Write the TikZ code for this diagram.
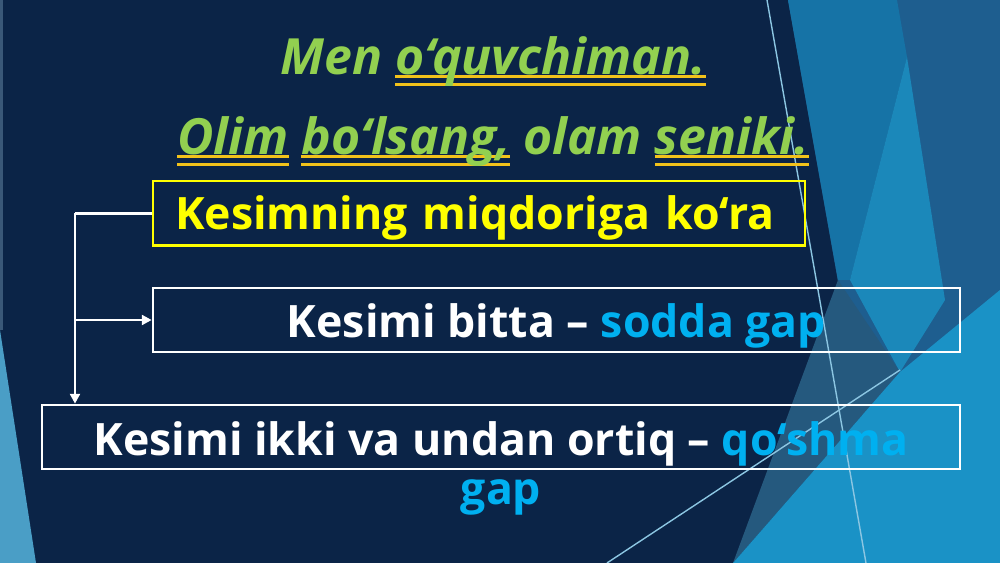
\documentclass[tikz,border=0pt]{standalone}
\usepackage{fontspec}
\setmainfont{Open Sans}
\usetikzlibrary{arrows.meta, positioning}

\definecolor{navy}{HTML}{0B2447}
\definecolor{steel}{HTML}{1E5E8F}
\definecolor{midblue}{HTML}{1673A6}
\definecolor{cyanwedge}{HTML}{1B88BA}
\definecolor{slate}{HTML}{25597E}
\definecolor{lightwedge}{HTML}{1A92C6}
\definecolor{leftwedge}{HTML}{4A9EC6}
\definecolor{leftstrip}{HTML}{3A5878}
\definecolor{thinline}{HTML}{8CC6E2}
\definecolor{titlegreen}{HTML}{92D050}
\definecolor{ulgold}{HTML}{F2C21B}
\definecolor{gapblue}{HTML}{00B0F0}
\definecolor{kyellow}{HTML}{FFFF00}

% double underline in gold
\newcommand\dblul[1]{\setbox0\hbox{#1}\rlap{\color{ulgold}\rule[-0.75pt]{\wd0}{0.75pt}}\rlap{\color{ulgold}\rule[-3.05pt]{\wd0}{0.8pt}}\box0\relax}
\newcommand\gap[1]{\textcolor{gapblue}{#1}}

\begin{document}
\begin{tikzpicture}[x=0.1mm, y=-0.1mm,
  title/.style={font=\fontsize{14.2}{16}\selectfont\bfseries\itshape, text=titlegreen, inner sep=0pt},
  boxtext/.style={font=\fontsize{12.7}{14.2}\selectfont\bfseries},
  kbox/.style={draw=kyellow, line width=0.85pt, text=kyellow, boxtext, inner ysep=0pt},
  wbox/.style={draw=white, line width=0.75pt, text=white, boxtext, inner ysep=0pt, text height=5mm, text depth=1.4mm},
  conn/.style={draw=white, line width=0.85pt}]
  \useasboundingbox (0,0) rectangle (1000,563);

  % Background
  \fill[navy] (0,0) rectangle (1000,563);
  \fill[steel] (788,0) -- (1000,0) -- (1000,563) -- (888,563) -- cycle;
  \fill[midblue] (788,0) -- (897,0) -- (907,57) -- (850,280) -- (838,280) -- cycle;
  \fill[cyanwedge] (907,57) -- (945,300) -- (900,372) -- (850,280) -- cycle;
  \fill[slate] (838,280) -- (900,372) -- (733,563) -- cycle;
  \fill[lightwedge] (733,563) -- (900,372) -- (1000,290) -- (1000,563) -- cycle;
  \fill[leftstrip] (0,0) rectangle (3,330);
  \fill[leftwedge] (0,330) -- (36,563) -- (0,563) -- cycle;
  \draw[thinline, line width=0.4pt] (767,0) -- (866,563);
  \draw[thinline, line width=0.4pt] (607,563) -- (900,370);

  % Nodes
  \node[title, anchor=base] (motto) at (493,75) {Men \dblul{o‘quvchiman.}};
  \node[title, anchor=base] (maqol) at (493,155) {\dblul{Olim} \dblul{bo‘lsang,} olam \dblul{seniki.}};
  \node[kbox, text width=60.8mm, inner xsep=2.2mm, align=left, text height=4.9mm, text depth=1.6mm] (kesim) at (479,213.5) {Kesimning miqdoriga ko‘ra};
  \node[wbox, minimum width=80.7mm] (bitta) at (556.5,320) {Kesimi bitta – \gap{sodda gap}};
  \node[wbox, minimum width=91.8mm] (ikki) at (501,437) {};
  \node[boxtext, text=white, align=center, anchor=base, inner sep=0pt] (ikkimatn) at (501,505) {Kesimi ikki va undan ortiq – \gap{qo‘shma}\\\gap{gap}};
  \coordinate (trunk) at (75,213.5);

  % Arrows
  \draw[conn] (kesim.west) -- (trunk);
  \draw[conn, -{Triangle[length=2.8pt, width=2.8pt]}] (trunk) -- (trunk |- ikki.north);
  \draw[conn, -{Triangle[length=2.8pt, width=2.8pt]}] (trunk |- bitta.west) -- (bitta.west);
\end{tikzpicture}
\end{document}
